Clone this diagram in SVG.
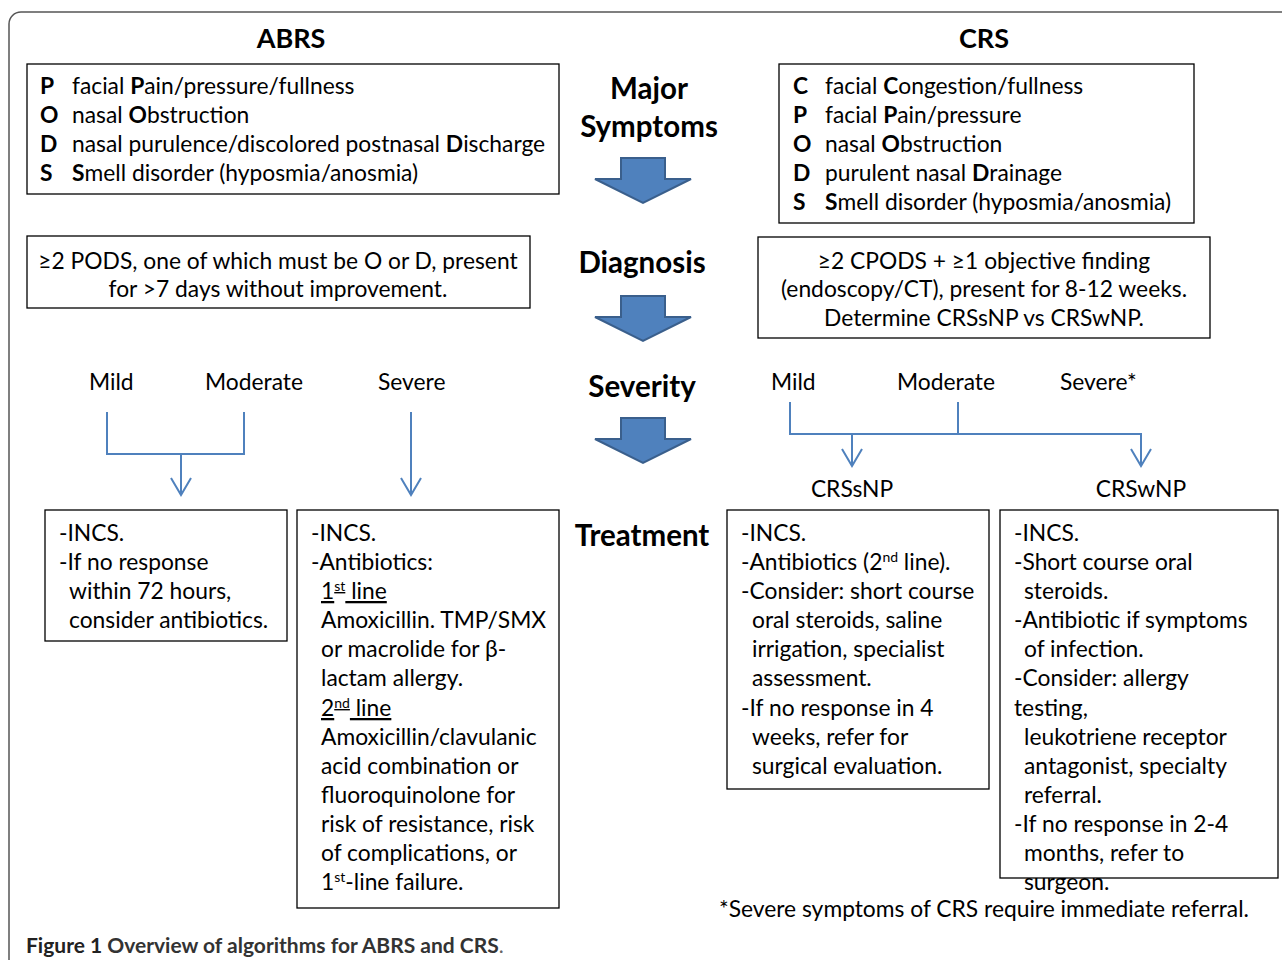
<svg xmlns="http://www.w3.org/2000/svg" width="1282" height="960" viewBox="0 0 1282 960">
<style>
text{font-family:Lato,"Open Sans","Liberation Sans",sans-serif;fill:#000}
.t{font-size:22.8px}
.b{font-weight:bold}
.h{font-size:29.5px;font-weight:bold}
.hh{font-size:27px;font-weight:bold}
.s{font-size:14px}
.box{fill:#fff;stroke:#000;stroke-width:1.3}
.con{fill:none;stroke:#4F81BD;stroke-width:2}
.blk{fill:#4F81BD;stroke:#3A5F8C;stroke-width:2}
.c{text-anchor:middle}
.u{text-decoration:underline}
</style>
<defs>
<marker id="ah" viewBox="0 0 20 22" refX="18" refY="11" markerWidth="20" markerHeight="22" markerUnits="userSpaceOnUse" orient="auto">
<path d="M1,1 L18,11 L1,21" fill="none" stroke="#4F81BD" stroke-width="2"/>
</marker>
<path id="blockarrow" d="M-22,0 L22,0 L22,21 L48,21 L0,45 L-48,21 L-22,21 Z"/>
</defs>
<rect id="frame" x="9" y="12" width="1300" height="980" rx="12" fill="#fff" stroke="#555" stroke-width="1.5"/>

<g id="headers">
<text class="hh c" x="291" y="48">ABRS</text>
<text class="hh c" x="984" y="48">CRS</text>
<text class="h c" x="649" y="99">Major</text>
<text class="h c" x="649" y="137">Symptoms</text>
<text class="h c" x="642" y="273">Diagnosis</text>
<text class="h c" x="642" y="397">Severity</text>
<text class="h c" x="642" y="546">Treatment</text>
</g>

<g id="stage-arrows">
<use href="#blockarrow" class="blk" x="643" y="158"/>
<use href="#blockarrow" class="blk" x="643" y="296"/>
<use href="#blockarrow" class="blk" x="643" y="418"/>
</g>

<g id="abrs-symptoms">
<rect class="box" x="27" y="64" width="532" height="130"/>
<text class="t" x="40" y="94"><tspan class="b">P</tspan><tspan x="72">facial </tspan><tspan class="b">P</tspan>ain/pressure/fullness</text>
<text class="t" x="40" y="123"><tspan class="b">O</tspan><tspan x="72">nasal </tspan><tspan class="b">O</tspan>bstruction</text>
<text class="t" x="40" y="152"><tspan class="b">D</tspan><tspan x="72">nasal purulence/discolored postnasal </tspan><tspan class="b">D</tspan>ischarge</text>
<text class="t" x="40" y="181"><tspan class="b">S</tspan><tspan x="72" class="b">S</tspan>mell disorder (hyposmia/anosmia)</text>
</g>

<g id="crs-symptoms">
<rect class="box" x="779" y="64" width="415" height="159"/>
<text class="t" x="793" y="94"><tspan class="b">C</tspan><tspan x="825">facial </tspan><tspan class="b">C</tspan>ongestion/fullness</text>
<text class="t" x="793" y="123"><tspan class="b">P</tspan><tspan x="825">facial </tspan><tspan class="b">P</tspan>ain/pressure</text>
<text class="t" x="793" y="152"><tspan class="b">O</tspan><tspan x="825">nasal </tspan><tspan class="b">O</tspan>bstruction</text>
<text class="t" x="793" y="181"><tspan class="b">D</tspan><tspan x="825">purulent nasal </tspan><tspan class="b">D</tspan>rainage</text>
<text class="t" x="793" y="210"><tspan class="b">S</tspan><tspan x="825" class="b">S</tspan>mell disorder (hyposmia/anosmia)</text>
</g>

<g id="abrs-diagnosis">
<rect class="box" x="27" y="236" width="503" height="72"/>
<text class="t c" x="278" y="269">≥2 PODS, one of which must be O or D, present</text>
<text class="t c" x="278" y="297">for &gt;7 days without improvement.</text>
</g>

<g id="crs-diagnosis">
<rect class="box" x="758" y="237" width="452" height="101"/>
<text class="t c" x="984" y="269">≥2 CPODS + ≥1 objective finding</text>
<text class="t c" x="984" y="297">(endoscopy/CT), present for 8-12 weeks.</text>
<text class="t c" x="984" y="326">Determine CRSsNP vs CRSwNP.</text>
</g>

<g id="severity-labels">
<text class="t" x="89" y="390">Mild</text>
<text class="t" x="205" y="390">Moderate</text>
<text class="t" x="378" y="390">Severe</text>
<text class="t" x="771" y="390">Mild</text>
<text class="t" x="897" y="390">Moderate</text>
<text class="t" x="1060" y="390">Severe*</text>
<text class="t c" x="852" y="497">CRSsNP</text>
<text class="t c" x="1141" y="497">CRSwNP</text>
</g>

<g id="connectors">
<path class="con" d="M107,412 V454 H244 V412"/>
<path class="con" d="M181,454 V495" marker-end="url(#ah)"/>
<path class="con" d="M411,412 V495" marker-end="url(#ah)"/>
<path class="con" d="M790,402 V434 H1141 V466" marker-end="url(#ah)"/>
<path class="con" d="M958,402 V434"/>
<path class="con" d="M852,434 V466" marker-end="url(#ah)"/>
</g>

<g id="abrs-mild-treatment">
<rect class="box" x="45" y="510" width="242" height="131"/>
<text class="t" x="59" y="541">-INCS.</text>
<text class="t" x="59" y="570">-If no response</text>
<text class="t" x="69" y="599">within 72 hours,</text>
<text class="t" x="69" y="628">consider antibiotics.</text>
</g>

<g id="abrs-severe-treatment">
<rect class="box" x="297" y="510" width="262" height="398"/>
<text class="t" x="311" y="541">-INCS.</text>
<text class="t" x="311" y="570">-Antibiotics:</text>
<text class="t u" x="321" y="599">1<tspan class="s" dy="-8">st</tspan><tspan dy="8"> line</tspan></text>
<text class="t" x="321" y="628">Amoxicillin. TMP/SMX</text>
<text class="t" x="321" y="657">or macrolide for β-</text>
<text class="t" x="321" y="686">lactam allergy.</text>
<text class="t u" x="321" y="716">2<tspan class="s" dy="-8">nd</tspan><tspan dy="8"> line</tspan></text>
<text class="t" x="321" y="745">Amoxicillin/clavulanic</text>
<text class="t" x="321" y="774">acid combination or</text>
<text class="t" x="321" y="803">fluoroquinolone for</text>
<text class="t" x="321" y="832">risk of resistance, risk</text>
<text class="t" x="321" y="861">of complications, or</text>
<text class="t" x="321" y="890">1<tspan class="s" dy="-8">st</tspan><tspan dy="8">-line failure.</tspan></text>
</g>

<g id="crssnp-treatment">
<rect class="box" x="727" y="510" width="262" height="279"/>
<text class="t" x="741" y="541">-INCS.</text>
<text class="t" x="741" y="570">-Antibiotics (2<tspan class="s" dy="-8">nd</tspan><tspan dy="8"> line).</tspan></text>
<text class="t" x="741" y="599">-Consider: short course</text>
<text class="t" x="752" y="628">oral steroids, saline</text>
<text class="t" x="752" y="657">irrigation, specialist</text>
<text class="t" x="752" y="686">assessment.</text>
<text class="t" x="741" y="716">-If no response in 4</text>
<text class="t" x="752" y="745">weeks, refer for</text>
<text class="t" x="752" y="774">surgical evaluation.</text>
</g>

<g id="crswnp-treatment">
<rect class="box" x="1000" y="510" width="278" height="368"/>
<text class="t" x="1014" y="541">-INCS.</text>
<text class="t" x="1014" y="570">-Short course oral</text>
<text class="t" x="1024" y="599">steroids.</text>
<text class="t" x="1014" y="628">-Antibiotic if symptoms</text>
<text class="t" x="1024" y="657">of infection.</text>
<text class="t" x="1014" y="686">-Consider: allergy</text>
<text class="t" x="1014" y="716">testing,</text>
<text class="t" x="1024" y="745">leukotriene receptor</text>
<text class="t" x="1024" y="774">antagonist, specialty</text>
<text class="t" x="1024" y="803">referral.</text>
<text class="t" x="1014" y="832">-If no response in 2-4</text>
<text class="t" x="1024" y="861">months, refer to</text>
<text class="t" x="1024" y="890">surgeon.</text>
</g>

<g id="footnote">
<text class="t" x="719" y="917">*Severe symptoms of CRS require immediate referral.</text>
</g>

<g id="caption">
<text x="26" y="953" style="font-size:21px;font-weight:bold;fill:#222">Figure 1<tspan style="fill:#333"> Overview of algorithms for ABRS and CRS</tspan><tspan style="font-weight:normal;fill:#666">.</tspan></text>
</g>
</svg>
